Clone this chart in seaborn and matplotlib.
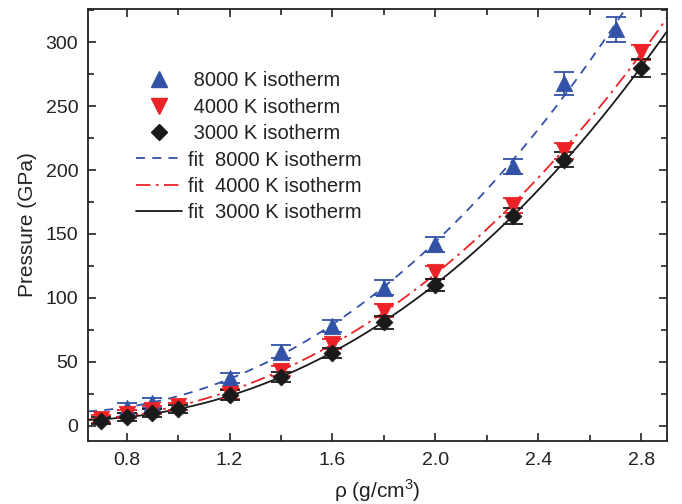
import numpy as np
import pandas as pd
import matplotlib
matplotlib.use("Agg")
import matplotlib.pyplot as plt
import seaborn as sns
from matplotlib.ticker import MultipleLocator
from matplotlib.lines import Line2D

# -----------------------------
# Data
# -----------------------------
rho_8000 = [0.8, 0.9, 1.2, 1.4, 1.6, 1.8, 2.0, 2.3, 2.5, 2.7]
p_8000 = [14, 18, 37, 58, 78, 108, 142, 203, 268, 310]
err_8000 = [4, 4, 4, 5, 5, 6, 6, 6, 9, 10]

rho_4000 = [0.7, 0.8, 0.9, 1.0, 1.2, 1.4, 1.6, 1.8, 2.0, 2.3, 2.5, 2.8]
p_4000 = [5, 9, 12, 15, 25, 43, 64, 90, 120, 172, 215, 292]
err_4000 = [3, 3, 3, 3, 4, 4, 4, 5, 5, 6, 6, 6]

rho_3000 = [0.7, 0.8, 0.9, 1.0, 1.2, 1.4, 1.6, 1.8, 2.0, 2.3, 2.5, 2.8]
p_3000 = [4, 7, 10, 13, 24, 38, 57, 81, 110, 164, 208, 280]
err_3000 = [3, 3, 3, 3, 4, 4, 4, 5, 5, 6, 6, 7]

labels = ["8000 K isotherm", "4000 K isotherm", "3000 K isotherm"]
colors = ["#3152a6", "#ec2227", "#1a1a1a"]
markers = ["^", "v", "D"]
line_styles = [(0, (5, 4)), (0, (8, 3, 1.5, 3)), "-"]

sns.set_style("ticks")
plt.rcParams["font.family"] = ["Liberation Sans", "DejaVu Sans"]
plt.rcParams["mathtext.fontset"] = "custom"
plt.rcParams["mathtext.rm"] = "Liberation Sans"

fig = plt.figure(figsize=(6.82, 5.04), dpi=100)
ax = fig.add_axes([88 / 682, 63 / 504, 579 / 682, 432 / 504])

series = [(rho_8000, p_8000, err_8000),
          (rho_4000, p_4000, err_4000),
          (rho_3000, p_3000, err_3000)]

grid = np.linspace(0.65, 2.9, 200)

# fit curves (polynomial fit of each isotherm)
for (x, y, e), c, ls, lab in zip(series, colors, line_styles, labels):
    coef = np.polyfit(x, y, 3)
    fit_df = pd.DataFrame({"rho": grid, "P": np.polyval(coef, grid)})
    sns.lineplot(data=fit_df, x="rho", y="P", ax=ax, color=c, lw=1.3,
                 linestyle=ls, legend=False)

# data points with error bars
for (x, y, e), c, m in zip(series, colors, markers):
    ax.errorbar(x, y, yerr=e, fmt="none", ecolor=c, elinewidth=1.3,
                capsize=7, capthick=1.3, zorder=3)
    df = pd.DataFrame({"rho": x, "P": y})
    sns.scatterplot(data=df, x="rho", y="P", ax=ax, color=c, marker=m,
                    s=140 if m != "D" else 75, edgecolor=c, linewidth=0.5,
                    zorder=4, legend=False)

ax.set_xlim(0.65, 2.9)
ax.set_ylim(-12, 326)
ax.xaxis.set_major_locator(MultipleLocator(0.4))
ax.xaxis.set_minor_locator(MultipleLocator(0.2))
ax.yaxis.set_major_locator(MultipleLocator(50))
ax.yaxis.set_minor_locator(MultipleLocator(25))
ax.set_xticks(np.arange(0.8, 2.81, 0.4))
ax.set_xticklabels(["0.8", "1.2", "1.6", "2.0", "2.4", "2.8"])
ax.tick_params(which="both", direction="in", top=True, right=True,
               labelsize=14, width=1.2, colors="#222222", labelcolor="#222222")
ax.tick_params(which="major", length=6)
ax.tick_params(which="minor", length=4)
ax.tick_params(axis="x", which="both", pad=8)
ax.tick_params(axis="y", which="both", pad=7)
for sp in ax.spines.values():
    sp.set_linewidth(1.3)
    sp.set_color("#222222")

ax.set_xlabel(r"ρ (g/cm$^3$)", fontsize=15, color="#222222", labelpad=6)
ax.set_ylabel("Pressure (GPa)", fontsize=15, color="#222222", labelpad=6)

handles = []
for c, m in zip(colors, markers):
    handles.append(Line2D([], [], color=c, marker=m, linestyle="none",
                          markersize=11 if m != "D" else 8.5))
for c, ls in zip(colors, line_styles):
    handles.append(Line2D([], [], color=c, linestyle=ls, lw=1.3))
leg_labels = [" " + l for l in labels] + ["fit  " + l for l in labels]
ax.legend(handles, leg_labels, loc="upper left", bbox_to_anchor=(0.052, 0.898),
          frameon=False, fontsize=14.5, handlelength=2.29, handletextpad=0.3,
          labelspacing=0.37, labelcolor="#222222")

fig.savefig("out.png", dpi=100)
